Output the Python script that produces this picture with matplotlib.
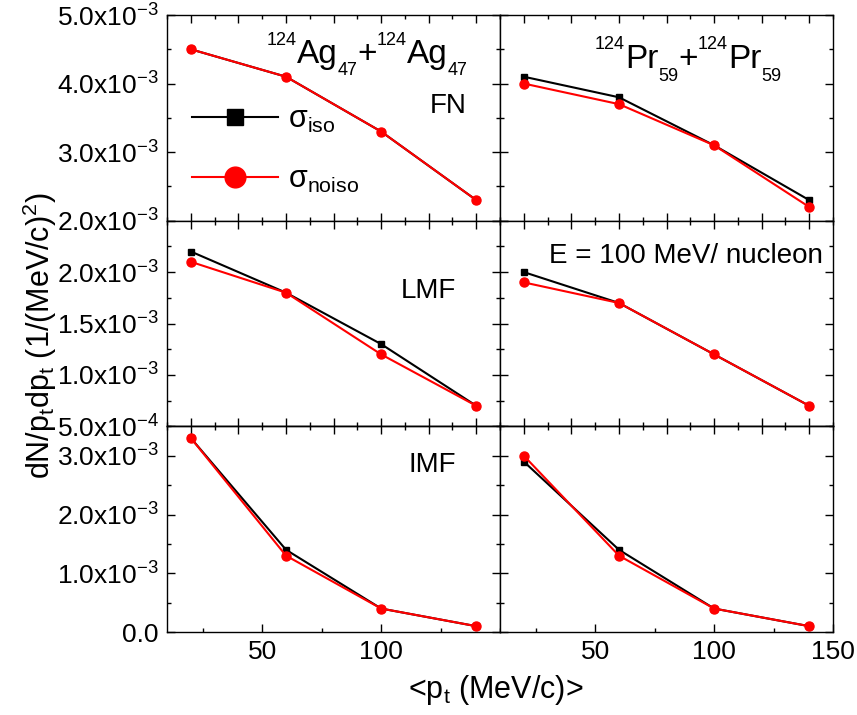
import matplotlib
matplotlib.use("Agg")
import matplotlib.pyplot as plt
import numpy as np
from matplotlib.ticker import MultipleLocator, FuncFormatter
from matplotlib.transforms import offset_copy

plt.rcParams["font.family"] = ["Liberation Sans", "DejaVu Sans"]
plt.rcParams["mathtext.default"] = "regular"
plt.rcParams["axes.linewidth"] = 1.0

# data (values in units of 1e-3)
pt = [20, 60, 100, 140]

ag_fn_iso = [4.5, 4.1, 3.3, 2.3]
ag_fn_noiso = [4.5, 4.1, 3.3, 2.3]
pr_fn_iso = [4.1, 3.8, 3.1, 2.3]
pr_fn_noiso = [4.0, 3.7, 3.1, 2.2]

ag_lmf_iso = [2.2, 1.8, 1.3, 0.7]
ag_lmf_noiso = [2.1, 1.8, 1.2, 0.7]
pr_lmf_iso = [2.0, 1.7, 1.2, 0.7]
pr_lmf_noiso = [1.9, 1.7, 1.2, 0.7]

ag_imf_iso = [3.3, 1.4, 0.4, 0.1]
ag_imf_noiso = [3.3, 1.3, 0.4, 0.1]
pr_imf_iso = [2.9, 1.4, 0.4, 0.1]
pr_imf_noiso = [3.0, 1.3, 0.4, 0.1]

panels = [
    [(ag_fn_iso, ag_fn_noiso), (pr_fn_iso, pr_fn_noiso)],
    [(ag_lmf_iso, ag_lmf_noiso), (pr_lmf_iso, pr_lmf_noiso)],
    [(ag_imf_iso, ag_imf_noiso), (pr_imf_iso, pr_imf_noiso)],
]
row_ylim = [(2.0e-3, 5.0e-3), (0.5e-3, 2.5e-3), (0.0, 3.5e-3)]
row_major = [1.0e-3, 0.5e-3, 1.0e-3]
row_minor = [0.5e-3, 0.25e-3, 0.5e-3]
row_labelmax = [5.0e-3, 2.1e-3, 3.1e-3]


def make_fmt(vmax):
    def fmt(v, pos):
        if v > vmax + 1e-9:
            return ""
        if abs(v) < 1e-12:
            return "0.0"
        e = int(np.floor(np.log10(abs(v)) + 1e-9))
        m = v / 10.0 ** e
        return f"{m:.1f}x10$^{{{e}}}$"
    return fmt


def script_title(ax, x, y, pieces):
    # pieces: (text, fontsize, vertical shift in points); centred at x
    r = fig.canvas.get_renderer()
    texts, widths = [], []
    for s, size, dy in pieces:
        t = ax.text(x, y, s, fontsize=size, va="baseline", ha="left",
                    transform=ax.transAxes)
        widths.append(t.get_window_extent(renderer=r).width * 72 / fig.dpi)
        texts.append((t, dy))
    cur = -sum(widths) / 2
    for (t, dy), w in zip(texts, widths):
        t.set_transform(offset_copy(ax.transAxes, fig=fig, x=cur, y=dy,
                                    units="points"))
        cur += w


fig, axes = plt.subplots(3, 2, figsize=(8.57, 7.15), dpi=100, sharey="row")
fig.subplots_adjust(left=0.195, right=0.972, top=0.979, bottom=0.116,
                    wspace=0, hspace=0)

for r in range(3):
    for c in range(2):
        ax = axes[r, c]
        iso, noiso = panels[r][c]
        ax.plot(pt, np.array(iso) * 1e-3, color="black", marker="s",
                markersize=5, lw=1.5, label=r"$\sigma_{iso}$")
        ax.plot(pt, np.array(noiso) * 1e-3, color="red", marker="o",
                markersize=6.5, lw=1.5, label=r"$\sigma_{noiso}$")
        ax.set_xlim(10, 150)
        ax.set_ylim(*row_ylim[r])
        ax.yaxis.set_major_locator(MultipleLocator(row_major[r]))
        ax.yaxis.set_minor_locator(MultipleLocator(row_minor[r]))
        ax.yaxis.set_major_formatter(FuncFormatter(make_fmt(row_labelmax[r])))
        ax.tick_params(axis="both", which="major", direction="in",
                       length=6, width=1, labelsize=19, pad=6)
        ax.tick_params(axis="both", which="minor", direction="in",
                       length=3, width=1)
        ax.tick_params(axis="y", which="both", left=True, right=True)
        if c == 1:
            ax.tick_params(axis="y", labelleft=False)
        if r < 2:
            ax.xaxis.set_major_locator(MultipleLocator(20))
            ax.xaxis.set_minor_locator(MultipleLocator(10))
            ax.tick_params(axis="x", which="both", top=True, bottom=True,
                           labelbottom=False)
        else:
            ax.xaxis.set_major_locator(MultipleLocator(50))
            ax.xaxis.set_minor_locator(MultipleLocator(25))
            if c == 0:
                ax.set_xticks([50, 100])
            sec = ax.secondary_xaxis("top")
            sec.xaxis.set_major_locator(MultipleLocator(20))
            sec.xaxis.set_minor_locator(MultipleLocator(10))
            sec.tick_params(which="major", direction="in", length=6, width=1,
                            labeltop=False)
            sec.tick_params(which="minor", direction="in", length=3, width=1)

ax = axes[0, 0]
script_title(ax, 0.60, 0.766, [("124", 13, 13), ("Ag", 24, 0), ("47", 13, -8.5),
                               ("+", 24, 0), ("124", 13, 13), ("Ag", 24, 0),
                               ("47", 13, -8.5)])
ax.text(0.90, 0.522, "FN", transform=ax.transAxes, ha="right",
        va="baseline", fontsize=20)
leg = ax.legend(loc="center left", bbox_to_anchor=(0.075, 0.345),
                frameon=False, fontsize=22, handlelength=2.8,
                handletextpad=0.35, labelspacing=0.97, borderpad=0,
                borderaxespad=0, markerscale=2.3)

ax = axes[0, 1]
script_title(ax, 0.565, 0.741, [("124", 13, 14), ("Pr", 24, 0), ("59", 13, -9.5),
                                ("+", 24, 0), ("124", 13, 14), ("Pr", 24, 0),
                                ("59", 13, -9.5)])

axes[1, 0].text(0.868, 0.626, "LMF", transform=axes[1, 0].transAxes,
                ha="right", va="baseline", fontsize=20)
axes[1, 1].text(0.97, 0.796, "E = 100 MeV/ nucleon",
                transform=axes[1, 1].transAxes, ha="right", va="baseline",
                fontsize=20)
axes[2, 0].text(0.868, 0.777, "IMF", transform=axes[2, 0].transAxes,
                ha="right", va="baseline", fontsize=20)

fig.text(0.578, 0.035, "<p$_t$ (MeV/c)>", ha="center", va="center",
         fontsize=22)
fig.text(0.047, 0.53, "dN/p$_t$dp$_t$ (1/(MeV/c)$^2$)", ha="center",
         va="center", rotation=90, fontsize=22)

fig.savefig("out.png", dpi=100)
